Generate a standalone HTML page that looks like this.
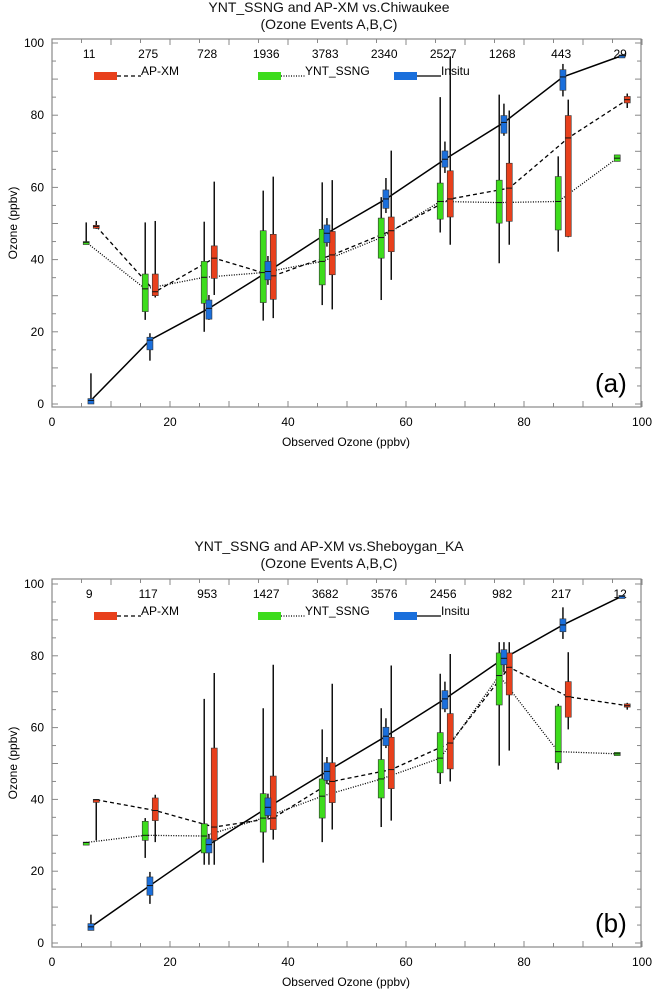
<!DOCTYPE html>
<html><head><meta charset="utf-8"><style>
body{margin:0;background:#fff;}
svg{display:block;font-family:"Liberation Sans",sans-serif;}
</style></head><body>
<svg id="svg" width="658" height="992" viewBox="0 0 658 992"></svg>
<script>
// shared data
const binCenters = [6.6,16.6,26.6,36.6,46.6,56.6,66.6,76.6,86.6,96.6];
const xTicks = [0,20,40,60,80,100];
const yTicks = [0,20,40,60,80,100];
// panel a : [whiskerLow, q1, median, q3, whiskerHigh]
const countsA = ["11","275","728","1936","3783","2340","2527","1268","443","29"];
const apxmA = [[48.5,49,49.2,49.5,50.7],[29.5,30,31.1,36,50.7],[30.2,34.8,40.4,43.8,61.6],[23.8,29,35.5,47,63],[26.2,35.8,41.3,47.8,62],[34.4,42.2,48,51.8,70.2],[44.1,51.8,56.8,64.6,96.3],[44.1,50.6,59.8,66.7,81.3],[46.2,46.4,73.7,79.9,84.3],[82,83.4,84.3,85.2,86]];
const ynttA = [[44.5,44.5,44.8,45,50.3],[23.3,25.6,31.9,36,50.3],[20,27.9,35.1,39.5,50.5],[23.1,28.1,36.4,48,59.1],[27.4,33,39.5,48.4,61.4],[28.8,40.4,46.1,51.5,57.3],[47.5,51.2,56.1,61.2,85],[39,50.1,55.8,62,85.7],[42.2,48.2,56.1,63,68.6],[67.2,67.2,68.1,69,69]];
const insituA = [[0,0,1,1.5,8.5],[12,15,17.7,18.5,19.6],[23.3,23.5,26.5,28.8,30.2],[33,34.4,36.7,39.5,41],[43.6,44.7,47.3,49.6,51.5],[52.9,54.2,56.8,59.3,62.6],[64,65.6,67.8,70.1,72.7],[74.3,75,78,79.9,83.2],[85.2,86.9,90.6,92.6,94.2],[96.3,96.3,96.5,96.7,96.7]];
// panel b
const countsB = ["9","117","953","1427","3682","3576","2456","982","217","12"];
const apxmB = [[28.6,39.7,39.9,40,40],[28.1,34.1,36.9,40.4,41.3],[21.8,28.6,32.3,54.3,75.2],[28.8,31.6,34.8,46.5,77.5],[31.6,39.1,45,50.2,72.2],[34.1,43,48.3,57.3,77.3],[45,48.5,55.7,63.9,80.5],[53.6,69.1,76.8,80.8,83.8],[59.5,62.9,68.6,72.8,81],[65,65.7,66.1,66.6,66.9]];
const ynttB = [[27.9,27.9,28,28.1,28.1],[23.7,28.6,30,33.9,34.8],[21.8,25.1,29.8,33.2,68],[22.4,30.9,34.8,41.6,65.4],[28.1,34.8,40.9,45.7,59.5],[32.3,40.4,45.7,51.1,65.4],[44.3,47.4,51.5,58.6,75],[49.4,66.3,74.5,80.8,83.8],[48.3,50.2,53.3,66,66.6],[52.2,52.2,52.7,53.1,53.1]];
const insituB = [[3.5,3.5,4.5,5.4,7.9],[10.9,13.3,16,18.4,19.8],[21.8,25.1,27.4,29,30.4],[34.8,35.5,37.8,40.4,41.6],[44.3,45.3,47.8,50.2,51.8],[54.3,55,57.6,60.1,62.6],[64.3,65.2,68,70.3,72.8],[75.4,77.5,79.3,81.7,83.8],[84.7,86.7,88.6,90.3,93.5],[96.4,96.4,96.6,96.8,96.8]];

const NS="http://www.w3.org/2000/svg";
const svg=document.getElementById('svg');
function el(tag,attrs,parent,text){const e=document.createElementNS(NS,tag);for(const k in attrs)e.setAttribute(k,attrs[k]);if(text!==undefined)e.textContent=text;(parent||svg).appendChild(e);return e;}

function panel(cfg){
  const g=el('g',{});
  
  
  const X=v=>52+5.9*v, Y=v=>cfg.y0-cfg.ys*v;
  const top=cfg.frameTop, bot=cfg.frameBot;
  // titles
  const t1=el('text',{x:329,y:cfg.titleY,'text-anchor':'middle','font-size':14,fill:'#111'},g,cfg.title);
  
  
  const t2=el('text',{x:329,y:cfg.titleY+17,'text-anchor':'middle','font-size':14,fill:'#111'},g,'(Ozone Events A,B,C)');
  
  
  // frame
  const fr=el('rect',{x:52,y:top,width:589,height:bot-top,fill:'none',stroke:'#888','stroke-width':1.2},g);
  
  
  // ticks
  for(let v=0;v<=100;v+=5){
    const len=v%10===0?6:4;
    el('line',{x1:X(v),x2:X(v),y1:bot,y2:bot-len,stroke:'#888'},g);
    el('line',{x1:X(v),x2:X(v),y1:top,y2:top+len,stroke:'#888'},g);
    el('line',{x1:52,x2:52+len,y1:Y(v),y2:Y(v),stroke:'#888'},g);
    el('line',{x1:641,x2:641-len,y1:Y(v),y2:Y(v),stroke:'#888'},g);
  }
  xTicks.forEach(v=>{const t=el('text',{x:X(v),y:bot+19,'text-anchor':'middle','font-size':12},g,String(v));
    
    });
  yTicks.forEach(v=>{const t=el('text',{x:44,y:Y(v)+4,'text-anchor':'end','font-size':12},g,String(v));
    
    });
  const xl=el('text',{x:346,y:bot+39,'text-anchor':'middle','font-size':12},g,'Observed Ozone (ppbv)');
  
  
  const yc=(top+bot)/2;
  const yl=el('text',{x:17,y:yc,'text-anchor':'middle','font-size':12,transform:`rotate(-90 17 ${yc})`},g,'Ozone (ppbv)');
  
  
  // counts
  cfg.counts.forEach((c,i)=>{const t=el('text',{x:X(binCenters[i]-0.3),y:cfg.countY,'text-anchor':'middle','font-size':12},g,c);
    
    });
  // legend
  const LY=cfg.legY;
  const legs=[['AP-XM','#e8401c','4 3',94],['YNT_SSNG','#3ddc1c','1 1.5',258],['Insitu','#1a6fdc','',394]];
  legs.forEach(([lab,col,dash,x0])=>{
    const lg=el('g',{},g);
    
    
    el('rect',{x:x0,y:LY-4,width:23,height:8,fill:col},lg);
    el('line',{x1:x0+23,x2:x0+47,y1:LY,y2:LY,stroke:'#000','stroke-width':1.3,'stroke-dasharray':dash},lg);
    el('text',{x:x0+47,y:LY-1,'font-size':12},lg,lab);
  });
  // series
  const series=[[cfg.ynt,'#3ddc1c',-0.8,'1 1.5','ynt-ssng'],[cfg.ap,'#e8401c',0.9,'4 3','ap-xm'],[cfg.ins,'#1a6fdc',0,'','insitu']];
  series.forEach(([data,col,off,dash,nm])=>{
    const pts=data.map((d,i)=>X(binCenters[i]+off)+','+Y(d[2])).join(' ');
    const ln=el('polyline',{points:pts,fill:'none',stroke:'#000','stroke-width':nm==='insitu'?1.5:1.3,'stroke-dasharray':dash},g);
    
    
  });
  series.forEach(([data,col,off,dash,nm])=>{
    data.forEach((d,i)=>{
      const bg=el('g',{},g);
      
      
      const cx=X(binCenters[i]+off);
      el('line',{x1:cx,x2:cx,y1:Y(d[0]),y2:Y(d[4]),stroke:'#111','stroke-width':1.5},bg);
      const h=Math.max(Y(d[1])-Y(d[3]),3);
      el('rect',{x:cx-3,y:Y(d[3]),width:6,height:h,fill:col,stroke:'#333','stroke-width':0.6},bg);
      el('line',{x1:cx-3,x2:cx+3,y1:Y(d[2]),y2:Y(d[2]),stroke:'#111','stroke-width':1},bg);
    });
  });
  const lab=el('text',{x:595,y:cfg.tagY,'font-size':26},g,cfg.tag);
  
  
}
panel({name:'panel-a',title:'YNT_SSNG and AP-XM vs.Chiwaukee',titleY:12,frameTop:39,frameBot:407,y0:404,ys:3.61,counts:countsA,countY:58,legY:76,ap:apxmA,ynt:ynttA,ins:insituA,tag:'(a)',tagY:392});
panel({name:'panel-b',title:'YNT_SSNG and AP-XM vs.Sheboygan_KA',titleY:551,frameTop:579,frameBot:947,y0:943,ys:3.59,counts:countsB,countY:598,legY:616,ap:apxmB,ynt:ynttB,ins:insituB,tag:'(b)',tagY:932});
</script>
</body></html>
